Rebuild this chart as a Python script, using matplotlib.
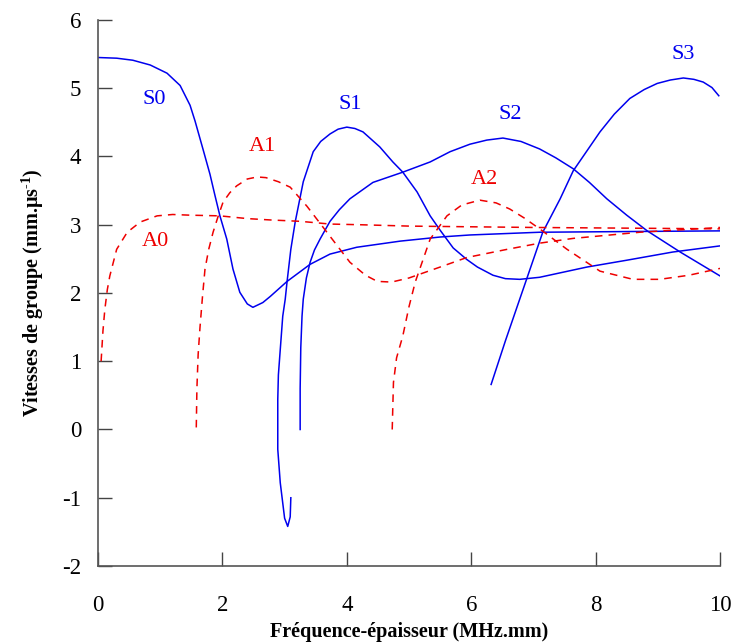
import matplotlib
matplotlib.use("Agg")
import matplotlib.pyplot as plt

plt.rcParams['font.family'] = ['Liberation Serif', 'DejaVu Serif']
plt.rcParams['mathtext.fontset'] = 'custom'
plt.rcParams['mathtext.rm'] = 'Liberation Serif:bold'
plt.rcParams['mathtext.bf'] = 'Liberation Serif:bold'
plt.rcParams['axes.unicode_minus'] = False

# Symmetric modes (frequency-thickness in MHz.mm, group velocity in mm/us)
s0_f = [0.0, 0.3, 0.56, 0.84, 1.11, 1.32, 1.48, 1.56, 1.69, 1.80, 1.88, 1.96, 2.07, 2.17,
        2.28, 2.40, 2.49, 2.65, 2.77, 3.04, 3.41, 3.73, 4.16, 4.86, 5.5, 5.98, 7.1, 8.5, 10.0]
s0_v = [5.45, 5.44, 5.41, 5.34, 5.22, 5.04, 4.75, 4.52, 4.10, 3.74, 3.43, 3.13, 2.79, 2.35,
        2.01, 1.84, 1.79, 1.86, 1.95, 2.17, 2.42, 2.57, 2.67, 2.76, 2.82, 2.85, 2.89, 2.90, 2.91]

s1_f = [3.10, 3.09, 3.05, 3.0, 2.93, 2.89, 2.89, 2.90, 2.93, 2.97, 3.01, 3.04, 3.10, 3.17,
        3.3, 3.46, 3.58, 3.73, 3.86, 4.0, 4.13, 4.26, 4.53, 4.74, 4.90, 5.13, 5.34, 5.5, 5.71,
        5.93, 6.1, 6.35, 6.55, 6.78, 7.1, 7.86, 8.5, 9.24, 10.0]
s1_v = [-1.0, -1.28, -1.42, -1.3, -0.78, -0.29, 0.44, 0.8, 1.17, 1.66, 1.91, 2.17, 2.64, 3.04,
        3.63, 4.07, 4.22, 4.33, 4.40, 4.43, 4.41, 4.36, 4.14, 3.92, 3.77, 3.48, 3.13, 2.92, 2.66,
        2.49, 2.38, 2.26, 2.21, 2.20, 2.23, 2.38, 2.48, 2.60, 2.69]

s2_f = [3.25, 3.25, 3.26, 3.28, 3.3, 3.35, 3.41, 3.48, 3.57, 3.73, 3.88, 4.05, 4.42, 4.9, 5.34,
        5.66, 5.98, 6.25, 6.51, 6.8, 7.1, 7.36, 7.64, 7.9, 8.18, 8.5, 8.83, 9.36, 10.0]
s2_v = [0.0, 0.6, 1.2, 1.66, 1.91, 2.22, 2.45, 2.63, 2.79, 3.05, 3.22, 3.38, 3.62, 3.77, 3.92,
        4.07, 4.18, 4.24, 4.27, 4.22, 4.11, 3.98, 3.82, 3.62, 3.38, 3.14, 2.91, 2.60, 2.25]

s3_f = [6.32, 6.55, 6.78, 7.15, 7.43, 7.64, 8.07, 8.3, 8.55, 8.78, 8.99, 9.2, 9.41, 9.58, 9.73,
        9.87, 9.98]
s3_v = [0.66, 1.3, 1.91, 2.89, 3.38, 3.79, 4.36, 4.62, 4.85, 4.98, 5.07, 5.12, 5.15, 5.13, 5.09,
        5.01, 4.89]

# Antisymmetric modes
a0_f = [0.05, 0.08, 0.11, 0.15, 0.19, 0.3, 0.47, 0.68, 0.95, 1.2, 1.48, 1.96, 2.4, 2.77,
        3.25, 3.73, 4.21, 5.0, 5.98, 7.0, 8.5, 10.0]
a0_v = [1.0, 1.45, 1.76, 2.05, 2.25, 2.64, 2.89, 3.04, 3.13, 3.15, 3.14, 3.13, 3.09, 3.07,
        3.05, 3.01, 3.0, 2.98, 2.97, 2.96, 2.95, 2.94]

a1_f = [1.58, 1.59, 1.61, 1.64, 1.68, 1.72, 1.78, 1.85, 1.93, 2.01, 2.12, 2.23, 2.4, 2.56,
        2.7, 2.9, 3.09, 3.36, 3.68, 4.05, 4.3, 4.49, 4.72, 5.0, 5.5, 5.93, 6.58, 7.1, 7.64,
        8.71, 10.0]
a1_v = [0.03, 0.6, 1.1, 1.5, 1.95, 2.35, 2.64, 2.89, 3.12, 3.33, 3.47, 3.57, 3.67, 3.70,
        3.69, 3.63, 3.55, 3.27, 2.89, 2.45, 2.26, 2.17, 2.16, 2.22, 2.38, 2.52, 2.64, 2.73,
        2.80, 2.89, 2.96]

a2_f = [4.73, 4.74, 4.75, 4.8, 4.9, 5.0, 5.1, 5.34, 5.61, 5.85, 6.14, 6.4, 6.62, 6.85, 7.1,
        7.54, 8.07, 8.6, 9.03, 9.5, 10.0]
a2_v = [0.0, 0.35, 0.69, 1.05, 1.37, 1.8, 2.16, 2.79, 3.13, 3.29, 3.36, 3.32, 3.23, 3.10,
        2.94, 2.64, 2.32, 2.20, 2.20, 2.26, 2.36]

mode_names = ['S0', 'S1', 'S2', 'S3', 'A0', 'A1', 'A2']
label_f = [0.9, 4.05, 6.62, 9.41, 0.92, 2.65, 6.22]
label_v = [4.83, 4.76, 4.61, 5.49, 2.75, 4.14, 3.67]

x_ticks = [0, 2, 4, 6, 8, 10]
y_ticks = [-2, -1, 0, 1, 2, 3, 4, 5, 6]

blue = '#0000ee'
red = '#ee0000'

fig = plt.figure(figsize=(7.33, 6.44), dpi=100)
ax = fig.add_axes([0.1337, 0.1211, 0.8486, 0.8479])

for f, v in [(s0_f, s0_v), (s1_f, s1_v), (s2_f, s2_v), (s3_f, s3_v)]:
    ax.plot(f, v, color=blue, lw=1.1, solid_joinstyle='round')
for f, v in [(a0_f, a0_v), (a1_f, a1_v), (a2_f, a2_v)]:
    ax.plot(f, v, color=red, lw=1.1, dashes=(5, 4))

for name, fx, vy in zip(mode_names, label_f, label_v):
    ax.text(fx, vy, name, color=blue if name[0] == 'S' else red,
            fontsize=16, ha='center', va='center')

ax.set_xlim(0, 10)
ax.set_ylim(-2, 6)
ax.set_xticks(x_ticks)
ax.set_yticks(y_ticks)
ax.tick_params(direction='in', length=10, width=1, labelsize=16.5, color='#444444')
ax.tick_params(axis='x', pad=21)
ax.tick_params(axis='y', pad=12)
for side in ['top', 'right']:
    ax.spines[side].set_visible(False)
for side in ['left', 'bottom']:
    ax.spines[side].set_color('#555555')
    ax.spines[side].set_linewidth(1.2)

ax.set_xlabel('Fréquence-épaisseur (MHz.mm)', fontsize=14.5, fontweight='bold', labelpad=4)
ax.set_ylabel(r'Vitesses de groupe (mm.µs$^{\text{-1}}$)', fontsize=14.5,
              fontweight='bold', labelpad=12)

fig.savefig('out.png', dpi=100)
